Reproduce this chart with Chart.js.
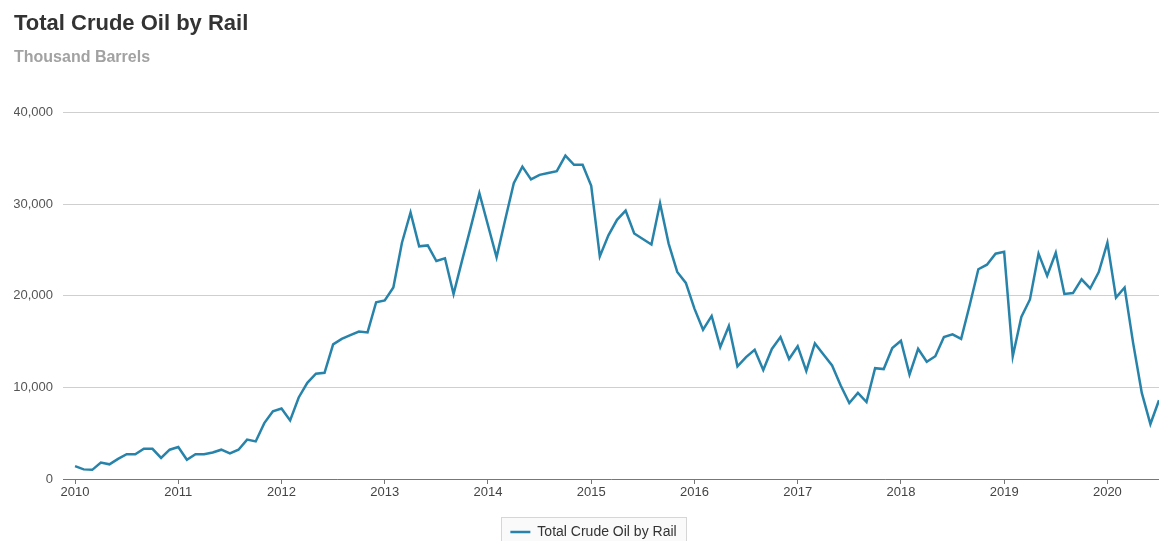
<!DOCTYPE html>
<html lang="en">
<head>
<meta charset="UTF-8">
<title>Total Crude Oil by Rail</title>
<style>
  body { margin: 0; background: #fff; }
  #wrap { width: 1159px; height: 541px; }
</style>
<script src="https://cdn.jsdelivr.net/npm/chart.js"></script>
</head>
<body>
<div id="wrap"><canvas id="railChart"></canvas></div>
<script>
// monthly shipments, thousand barrels, Jan..Dec
const y2010 = [1400, 1050, 1000, 1800, 1600, 2200, 2700, 2700, 3300, 3300, 2300, 3200];
const y2011 = [3500, 2100, 2700, 2700, 2900, 3200, 2800, 3200, 4300, 4100, 6100, 7400];
const y2012 = [7700, 6400, 8900, 10500, 11500, 11600, 14700, 15300, 15700, 16100, 16000, 19300];
const y2013 = [19500, 20900, 25800, 29100, 25400, 25500, 23800, 24100, 20200, 23900, 27500, 31200];
const y2014 = [27700, 24200, 28300, 32300, 34100, 32700, 33200, 33400, 33600, 35300, 34300, 34300];
const y2015 = [32000, 24300, 26600, 28300, 29300, 26800, 26200, 25600, 30100, 25700, 22600, 21400];
const y2016 = [18600, 16300, 17800, 14400, 16700, 12300, 13300, 14100, 11900, 14200, 15500, 13100];
const y2017 = [14500, 11800, 14800, 13600, 12400, 10200, 8300, 9400, 8400, 12100, 12000, 14300];
const y2018 = [15100, 11400, 14200, 12800, 13400, 15500, 15800, 15300, 19000, 22900, 23400, 24600];
const y2019 = [24800, 13400, 17700, 19600, 24600, 22200, 24700, 20200, 20300, 21800, 20800, 22600];
const y2020 = [25800, 19800, 20900, 14800, 9400, 6000, 8600];

const firstYear = 2010;
const yearLabels = [2010, 2011, 2012, 2013, 2014, 2015, 2016, 2017, 2018, 2019, 2020];
const seriesName = 'Total Crude Oil by Rail';

const monthly = [].concat(y2010, y2011, y2012, y2013, y2014, y2015, y2016, y2017, y2018, y2019, y2020);
// x = months since Jan 2010
const points = monthly.map((v, i) => ({ x: i, y: v }));

const sans = "'Liberation Sans', Arial, sans-serif";
const legendShift = 14;

// framed legend, nudged right of the canvas centre
const legendFrame = {
  id: 'legendFrame',
  afterLayout(chart) {
    chart.legend.left += legendShift;
  },
  beforeDraw(chart) {
    const lg = chart.legend;
    if (!lg || !lg.lineWidths) return;
    const pad = lg.options.labels.padding;
    const itemW = lg.lineWidths[0];
    const startX = (lg.left + pad + lg.right - itemW) / 2;
    const midY = lg.top + lg.height / 2;
    const ctx = chart.ctx;
    ctx.save();
    ctx.fillStyle = '#fafafa';
    ctx.strokeStyle = '#d6d6d6';
    ctx.lineWidth = 1;
    const x = Math.round(startX - 9) + 0.5;
    const y = Math.round(midY - 19) + 0.5;
    const w = Math.round(itemW + 17);
    ctx.fillRect(x, y, w, 40);
    ctx.strokeRect(x, y, w, 40);
    ctx.restore();
  }
};

new Chart(document.getElementById('railChart'), {
  type: 'line',
  data: {
    datasets: [{
      label: seriesName,
      data: points,
      borderColor: '#2783a9',
      backgroundColor: '#2783a9',
      borderWidth: 2.5,
      pointRadius: 0,
      tension: 0,
      fill: false
    }]
  },
  options: {
    responsive: true,
    maintainAspectRatio: false,
    animation: false,
    layout: { padding: { left: 14, right: 0, top: 0, bottom: -8 } },
    plugins: {
      title: {
        display: true,
        text: seriesName,
        align: 'start',
        color: '#333',
        font: { family: sans, size: 22, weight: 'bold' },
        padding: { top: 11, bottom: 8 }
      },
      subtitle: {
        display: true,
        text: 'Thousand Barrels',
        align: 'start',
        color: '#a2a2a2',
        font: { family: sans, size: 16, weight: 'bold' },
        padding: { top: 3, bottom: 45 }
      },
      legend: {
        position: 'bottom',
        labels: {
          usePointStyle: true,
          pointStyle: 'line',
          pointStyleWidth: 20,
          color: '#333',
          font: { family: sans, size: 14 },
          padding: 2
        }
      },
      tooltip: { enabled: false }
    },
    scales: {
      x: {
        type: 'linear',
        min: -1.4,
        max: 126,
        afterBuildTicks(scale) {
          scale.ticks = yearLabels.map(y => ({ value: (y - firstYear) * 12 }));
        },
        afterFit(scale) {
          scale.height = 44;
        },
        ticks: {
          color: '#444',
          font: { family: sans, size: 13 },
          padding: 1,
          maxRotation: 0,
          callback: v => String(firstYear + Math.round(v / 12))
        },
        grid: { drawOnChartArea: false, drawTicks: true, tickLength: 5, color: '#777' },
        border: { display: true, color: '#777', width: 1 }
      },
      y: {
        min: 0,
        max: 40000,
        afterFit(scale) {
          scale.width = 49;
        },
        ticks: {
          stepSize: 10000,
          color: '#555',
          font: { family: sans, size: 13 },
          padding: 10,
          callback: v => v.toLocaleString('en-US')
        },
        grid: { color: '#cfcfcf', drawTicks: false },
        border: { display: false }
      }
    }
  },
  plugins: [legendFrame]
});
</script>
</body>
</html>
